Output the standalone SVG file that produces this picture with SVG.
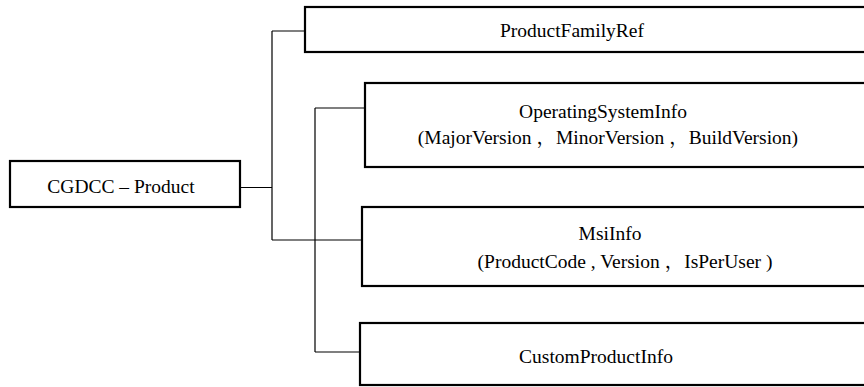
<svg xmlns="http://www.w3.org/2000/svg" width="864" height="387" viewBox="0 0 864 387">
<style>
.box{fill:#fff;stroke:#000;stroke-width:2.2}
.con{fill:none;stroke:#000;stroke-width:1.2}
.lbl{font-size:19.5px;fill:#000;text-anchor:middle}
</style>
<rect width="864" height="387" fill="#fff"/>
<g id="connectors">
<path class="con" d="M241 187.5H272M272 31V240M272 31H305M272 240H362"/>
<path class="con" d="M315 108V352M315 108H365M315 352H360"/>
</g>
<g id="product">
<rect class="box" x="10" y="161" width="230" height="46"/>
<text class="lbl" font-family="'Liberation Serif', serif" x="121" y="193">CGDCC – Product</text>
</g>
<g id="productFamilyRef">
<rect class="box" x="305" y="7" width="570" height="45"/>
<text class="lbl" font-family="'Liberation Serif', serif" x="572" y="37">ProductFamilyRef</text>
</g>
<g id="operatingSystemInfo">
<rect class="box" x="365" y="83" width="510" height="84"/>
<text class="lbl" font-family="'Liberation Serif', serif" x="603" y="118">OperatingSystemInfo</text>
<text class="lbl" font-family="'Liberation Serif', serif" x="608" y="144">(MajorVersion <tspan font-family="'Noto Serif CJK SC', 'Noto Sans CJK SC', serif">，</tspan>MinorVersion <tspan font-family="'Noto Serif CJK SC', 'Noto Sans CJK SC', serif">，</tspan>BuildVersion)</text>
</g>
<g id="msiInfo">
<rect class="box" x="362" y="207" width="513" height="79"/>
<text class="lbl" font-family="'Liberation Serif', serif" x="610" y="240">MsiInfo</text>
<text class="lbl" font-family="'Liberation Serif', serif" x="625" y="268">(ProductCode , Version <tspan font-family="'Noto Serif CJK SC', 'Noto Sans CJK SC', serif">，</tspan>IsPerUser )</text>
</g>
<g id="customProductInfo">
<rect class="box" x="360" y="323" width="515" height="62"/>
<text class="lbl" font-family="'Liberation Serif', serif" x="596" y="363">CustomProductInfo</text>
</g>
</svg>
